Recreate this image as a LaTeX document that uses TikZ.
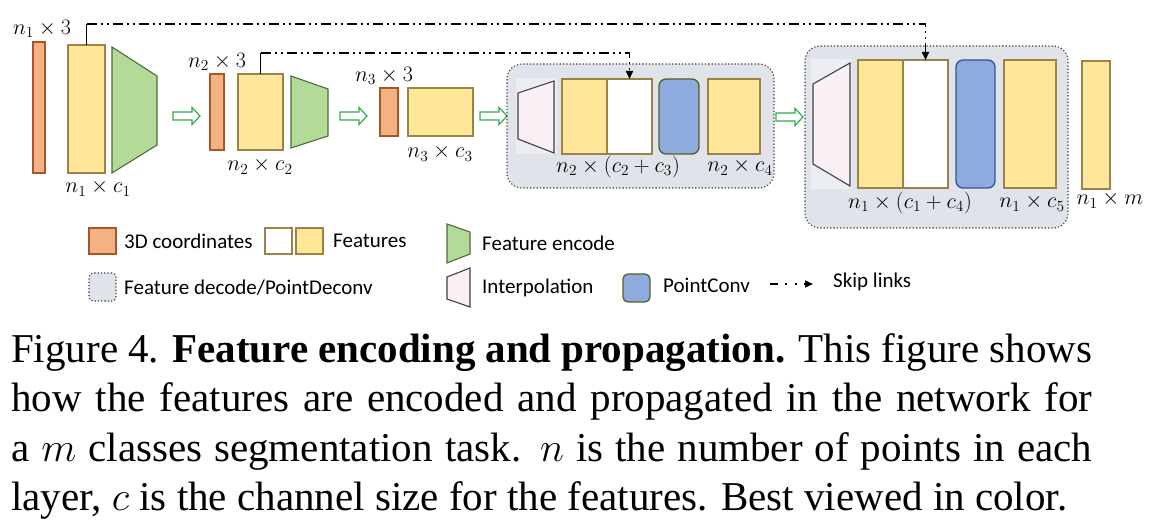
\documentclass[tikz,border=0pt]{standalone}
\usepackage{fix-cm}
\usepackage{fontspec}
\setmainfont{Liberation Serif}
\newfontfamily\legendfont{Carlito}
\usetikzlibrary{arrows.meta}
\definecolor{xyzfill}{HTML}{F4B183}
\definecolor{xyzline}{HTML}{A9552A}
\definecolor{featfill}{HTML}{FFE699}
\definecolor{featline}{HTML}{9C8247}
\definecolor{encfill}{HTML}{B4DA97}
\definecolor{encline}{HTML}{4F6B3C}
\definecolor{decfill}{HTML}{E1E3EB}
\definecolor{interpbg}{HTML}{EAEDF2}
\definecolor{interpfill}{HTML}{F9EFF5}
\definecolor{convfill}{HTML}{8FAADC}
\definecolor{convgreen}{HTML}{4F6228}
\definecolor{convblue}{HTML}{2F5597}
\definecolor{flowgreen}{HTML}{2EAF4A}

\begin{document}
\begin{tikzpicture}[x=1pt,y=-1pt,
    box/.style={inner sep=0pt,outer sep=0pt,line width=1.3pt},
    xyzbar/.style={box,draw=xyzline,fill=xyzfill},
    featbar/.style={box,draw=featline,fill=featfill},
    blankbar/.style={box,draw=featline,fill=white},
    convbar/.style={box,draw=convgreen,fill=convfill,rounded corners=7pt},
    decodebox/.style={box,draw=black!75,fill=decfill,dotted,line width=1.1pt,rounded corners=15pt},
    encshape/.style={draw=encline,fill=encfill,line width=1.1pt},
    interpshape/.style={draw=black!75,fill=interpfill,line width=1.1pt},
    flow/.style={draw=flowgreen,fill=white,line width=1.2pt},
    skiplink/.style={line width=1.6pt,dash pattern=on 10pt off 4pt on 2pt off 4pt on 2pt off 4pt,
                     -{Triangle[length=8pt,width=7pt]}},
    dim/.style={font=\fontsize{22}{26}\selectfont,inner sep=0pt},
    legend/.style={font=\legendfont\fontsize{21}{25}\selectfont,anchor=west,inner sep=0pt},
    caption/.style={font=\fontsize{41}{49}\selectfont,anchor=base west,inner sep=0pt}]
    \useasboundingbox (0,0) rectangle (1154,529);

    \node[xyzbar,minimum width=12pt,minimum height=131pt] (xyz1) at (39,107.5) {};
    \node[featbar,minimum width=37pt,minimum height=128pt] (feat1) at (86.5,109) {};
    \draw[encshape] (112,47) -- (157,76) -- (157,145) -- (112,173) -- cycle;
    \node[dim] (lxyz1) at (42,29) {$n_1\times 3$};
    \node[dim] (lfeat1) at (98,188) {$n_1\times c_1$};

    \node[xyzbar,minimum width=14pt,minimum height=76pt] (xyz2) at (217,112) {};
    \node[featbar,minimum width=45pt,minimum height=76pt] (feat2) at (260.5,112) {};
    \draw[encshape] (291,76) -- (328,89) -- (328,136) -- (291,148) -- cycle;
    \node[dim] (lxyz2) at (217,62) {$n_2\times 3$};
    \node[dim] (lfeat2) at (260,166) {$n_2\times c_2$};

    \node[xyzbar,minimum width=18pt,minimum height=48pt] (xyz3) at (389,112) {};
    \node[featbar,minimum width=65pt,minimum height=48pt] (feat3) at (440.5,112) {};
    \node[dim] (lxyz3) at (384,76) {$n_3\times 3$};
    \node[dim] (lfeat3) at (440,153) {$n_3\times c_3$};

    \foreach \ax/\ay in {173/116,340/116,480/116,776/117}
        \draw[flow] (\ax,\ay-4) -- ++(19,0) -- ++(0,-4.5) -- ++(8,8.5)
                    -- ++(-8,8.5) -- ++(0,-4.5) -- ++(-19,0) -- cycle;

    \node[decodebox,minimum width=267pt,minimum height=124pt] (dec1) at (640.5,126) {};
    \fill[interpbg] (516,78) rectangle (557,154);
    \draw[interpshape] (518,93) -- (554,81) -- (554,153) -- (518,139) -- cycle;
    \node[featbar,minimum width=45pt,minimum height=75pt] (cat1y) at (584.5,116.5) {};
    \node[blankbar,minimum width=45pt,minimum height=75pt] (cat1w) at (629.5,116.5) {};
    \node[convbar,minimum width=40pt,minimum height=75pt] (conv1) at (679,116.5) {};
    \node[featbar,minimum width=52pt,minimum height=75pt] (out1) at (734,116.5) {};
    \node[dim] (lcat1) at (618,167) {$n_2\times (c_2+c_3)$};
    \node[dim] (lout1) at (740,167) {$n_2\times c_4$};

    \node[decodebox,minimum width=263pt,minimum height=182pt] (dec2) at (936.5,137) {};
    \fill[interpbg] (811,59) rectangle (852,189);
    \draw[interpshape] (813,84) -- (850,63) -- (850,186) -- (813,164) -- cycle;
    \node[featbar,minimum width=45pt,minimum height=128pt] (cat2y) at (880.5,124) {};
    \node[blankbar,minimum width=45pt,minimum height=128pt] (cat2w) at (925.5,124) {};
    \node[convbar,draw=convblue,minimum width=39pt,minimum height=128pt] (conv2) at (975.5,124) {};
    \node[featbar,minimum width=52pt,minimum height=128pt] (out2) at (1030,124) {};
    \node[dim] (lcat2) at (910,203) {$n_1\times (c_1+c_4)$};
    \node[dim] (lout2) at (1032,203) {$n_1\times c_5$};

    \node[featbar,minimum width=28pt,minimum height=128pt] (pred) at (1096,125) {};
    \node[dim] (lpred) at (1110,200) {$n_1\times m$};

    \coordinate (up1) at (86.5,24);
    \coordinate (up2) at (260.5,53);
    \draw[line width=1.6pt] (feat1.north) -- (up1);
    \draw[skiplink] (up1) -| (cat2w.north);
    \draw[line width=1.6pt] (feat2.north) -- (up2);
    \draw[skiplink] (up2) -| (cat1w.north);

    \node[xyzbar,minimum width=27pt,minimum height=26pt] (lgxyz) at (102.5,241) {};
    \node[legend] (txyz) at (124,241) {3D coordinates};
    \node[blankbar,minimum width=27pt,minimum height=26pt] (lgblank) at (278.5,241) {};
    \node[featbar,minimum width=27pt,minimum height=26pt] (lgfeat) at (309.5,241) {};
    \node[legend] (tfeat) at (333,241) {Features};
    \draw[encshape] (447,224) -- (470,232) -- (470,254) -- (447,263) -- cycle;
    \node[legend] (tenc) at (482,243) {Feature encode};
    \node[decodebox,rounded corners=4pt,minimum width=27pt,minimum height=28pt] (lgdec) at (102.5,287) {};
    \node[legend] (tdec) at (124,288) {Feature decode/PointDeconv};
    \draw[interpshape] (447,277) -- (470,268) -- (470,307) -- (447,299) -- cycle;
    \node[legend] (tinterp) at (482,288) {Interpolation};
    \node[convbar,rounded corners=5pt,minimum width=27pt,minimum height=28pt] (lgconv) at (636.5,288) {};
    \node[legend] (tconv) at (663,285) {PointConv};
    \coordinate (lgsk1) at (770,284);
    \coordinate (lgsk2) at (813,284);
    \draw[skiplink,dash pattern=on 8pt off 7pt on 2pt off 8pt on 2pt off 7pt] (lgsk1) -- (lgsk2);
    \node[legend] (tskip) at (833,282) {Skip links};

    \node[caption] (capA) at (11,362) {\makebox[1081pt][s]{Figure 4. \textbf{Feature encoding and propagation.} This figure shows}};
    \node[caption] (capB) at (11,411) {\makebox[1081pt][s]{how the features are encoded and propagated in the network for}};
    \node[caption] (capC) at (11,461) {\makebox[1081pt][s]{a $m$ classes segmentation task. $n$ is the number of points in each}};
    \node[caption] (capD) at (11,510) {layer, $c$ is the channel size for the features. Best viewed in color.};
\end{tikzpicture}
\end{document}
